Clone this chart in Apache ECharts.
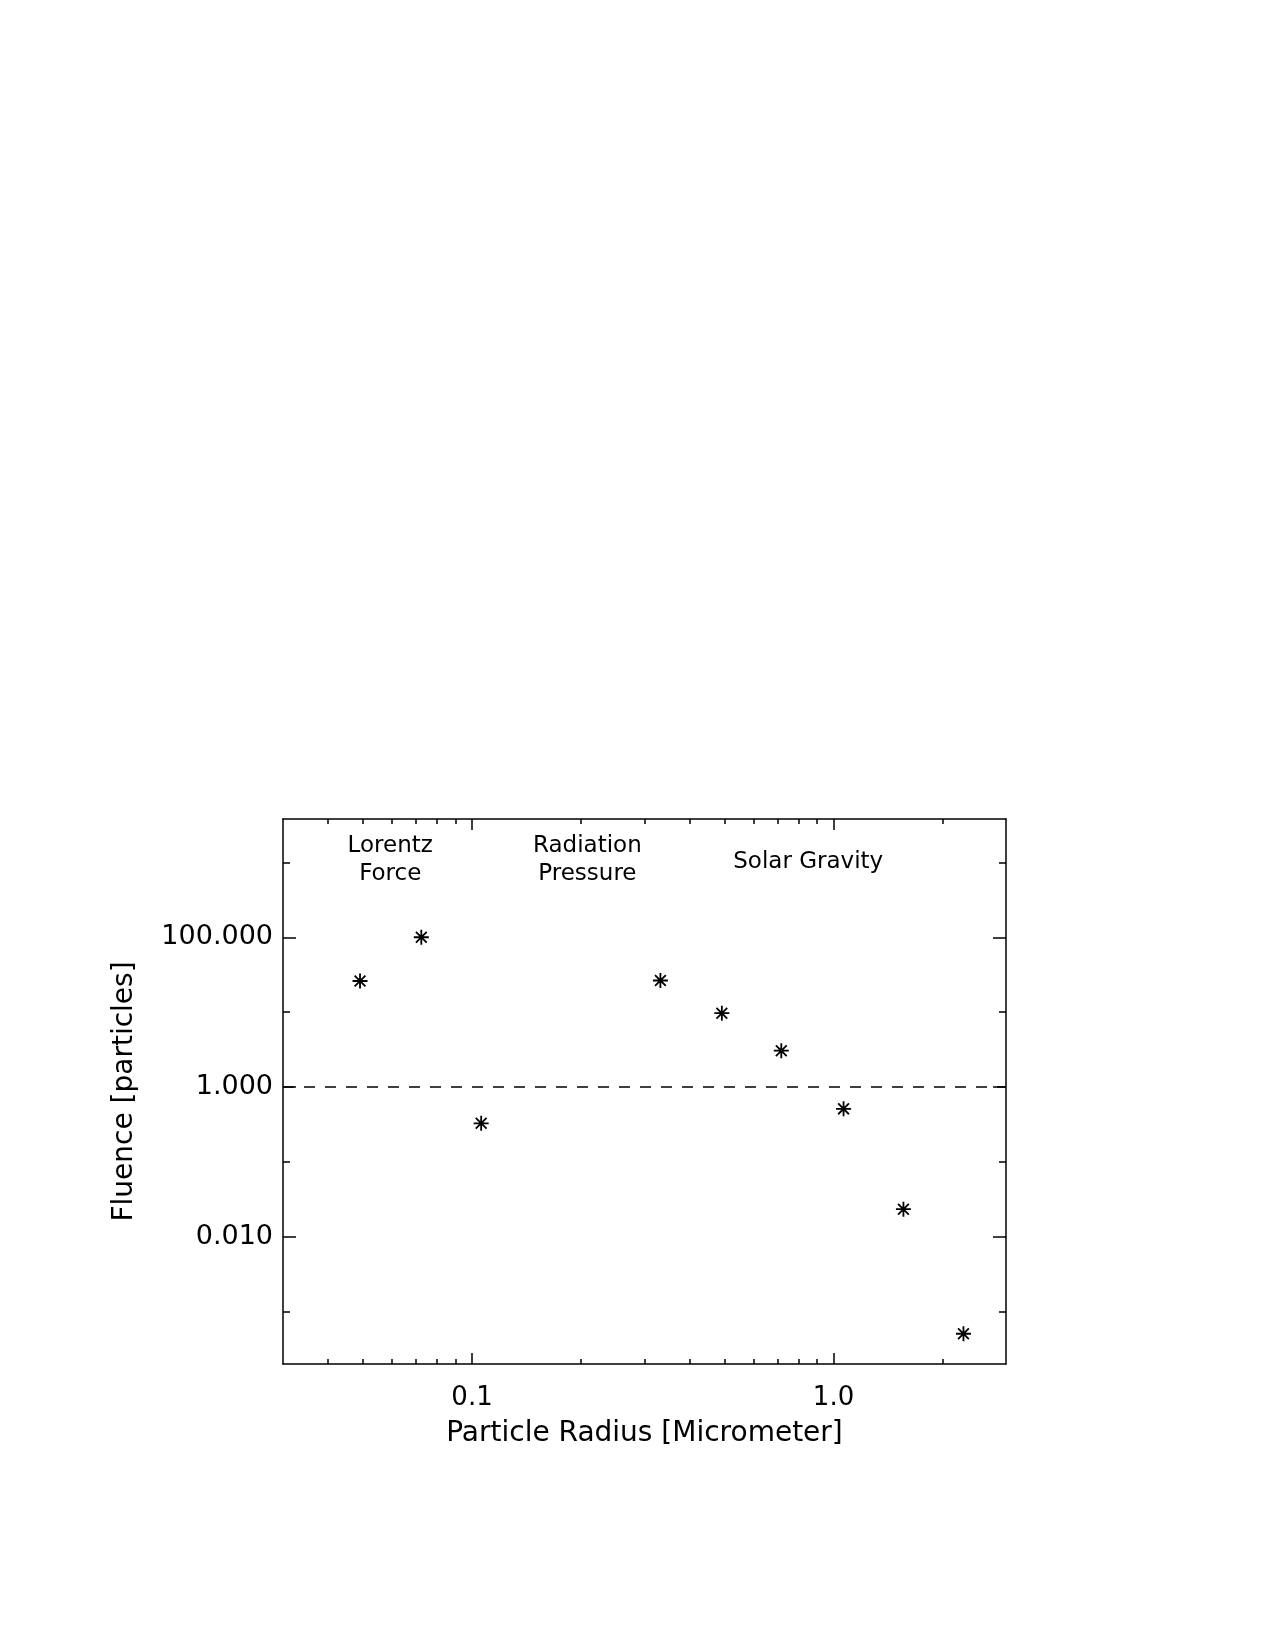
<!DOCTYPE html>
<html>
<head>
<meta charset="utf-8">
<script src="https://cdn.jsdelivr.net/npm/echarts@6/dist/echarts.min.js"></script>
<style>html,body{margin:0;padding:0;background:#fff;}#c{width:1275px;height:1650px;}</style>
</head>
<body>
<div id="c"></div>
<script>
// Data
const radius = [0.049, 0.0724, 0.106, 0.332, 0.491, 0.717, 1.066, 1.561, 2.288];
const fluence = [26.1, 100, 0.33, 26.5, 9.7, 3.07, 0.514, 0.0236, 0.000514];
const xMajorTicks = [0.1, 1.0];
const xMinorTicks = [0.04, 0.05, 0.06, 0.07, 0.08, 0.09, 0.2, 0.3, 0.4, 0.5, 0.6, 0.7, 0.8, 0.9, 2];
const yMajorTicks = [0.01, 1, 100];
const yMinorTicks = [0.001, 0.1, 10, 1000];
const regionNames = ['Lorentz\nForce', 'Radiation\nPressure', 'Solar Gravity'];
const regionX = [0.0594, 0.2085, 0.851];
const regionY = [1060, 1060, 1009];
const thresholdValue = 1;

const FONT = 'DejaVu Sans';
const INK = '#000';
const xMin = 0.03, xMax = 3, yMin = 0.000203, yMax = 3780;

function xAxisDef(pos, major) {
  return {
    type: 'log', logBase: 10, min: xMin, max: xMax, position: pos, gridIndex: 0,
    axisLine: {show: major, lineStyle: {color: INK, width: 1.5}},
    axisTick: {show: true, inside: true, length: major ? 11 : 5,
      customValues: major ? xMajorTicks : xMinorTicks, lineStyle: {color: INK, width: 1.5}},
    axisLabel: {show: major && pos === 'bottom', customValues: xMajorTicks, margin: 21,
      fontFamily: FONT, fontSize: 26, color: INK, formatter: v => Number(v).toFixed(1)},
    splitLine: {show: false}, minorTick: {show: false}, minorSplitLine: {show: false},
    name: (major && pos === 'bottom') ? 'Particle Radius [Micrometer]' : '',
    nameLocation: 'middle', nameGap: 56,
    nameTextStyle: {fontFamily: FONT, fontSize: 28, color: INK}
  };
}
function yAxisDef(pos, major) {
  return {
    type: 'log', logBase: 10, min: yMin, max: yMax, position: pos, gridIndex: 0,
    axisLine: {show: major, lineStyle: {color: INK, width: 1.5}},
    axisTick: {show: true, inside: true, length: major ? 13 : 7,
      customValues: major ? yMajorTicks : yMinorTicks, lineStyle: {color: INK, width: 1.5}},
    axisLabel: {show: major && pos === 'left', customValues: yMajorTicks, margin: 10,
      fontFamily: FONT, fontSize: 27, color: INK, formatter: v => Number(v).toFixed(3)},
    splitLine: {show: false}, minorTick: {show: false}, minorSplitLine: {show: false},
    name: (major && pos === 'left') ? 'Fluence [particles]' : '',
    nameLocation: 'middle', nameGap: 144,
    nameTextStyle: {fontFamily: FONT, fontSize: 28, color: INK}
  };
}

const chart = echarts.init(document.getElementById('c'), null, {renderer: 'canvas'});
chart.setOption({
  backgroundColor: '#fff',
  animation: false,
  grid: {left: 283, top: 819, right: 269, bottom: 286, containLabel: false},
  xAxis: [xAxisDef('bottom', true), xAxisDef('bottom', false), xAxisDef('top', true), xAxisDef('top', false)],
  yAxis: [yAxisDef('left', true), yAxisDef('left', false), yAxisDef('right', true), yAxisDef('right', false)],
  series: [
    {
      type: 'scatter', xAxisIndex: 0, yAxisIndex: 0,
      data: radius.map((r, i) => [r, fluence[i]]),
      symbol: 'path://M0,-1L0,1M-1,0L1,0M-0.72,-0.72L0.72,0.72M-0.72,0.72L0.72,-0.72',
      symbolSize: 15,
      itemStyle: {color: 'rgba(0,0,0,0)', borderColor: INK, borderWidth: 1.8, opacity: 1},
      markLine: {
        silent: true, symbol: 'none',
        lineStyle: {color: INK, width: 1.5, type: [11, 10], opacity: 1},
        label: {show: false},
        data: [{yAxis: thresholdValue}]
      }
    },
    {
      type: 'scatter', xAxisIndex: 0, yAxisIndex: 0, symbolSize: 0, silent: true,
      itemStyle: {opacity: 1},
      data: regionNames.map((n, i) => ({name: n, value: [regionX[i], regionY[i]]})),
      label: {show: true, position: 'inside', formatter: '{b}', fontFamily: FONT,
        fontSize: 23, lineHeight: 28, color: INK, align: 'center', opacity: 1}
    }
  ]
});
</script>
</body>
</html>
